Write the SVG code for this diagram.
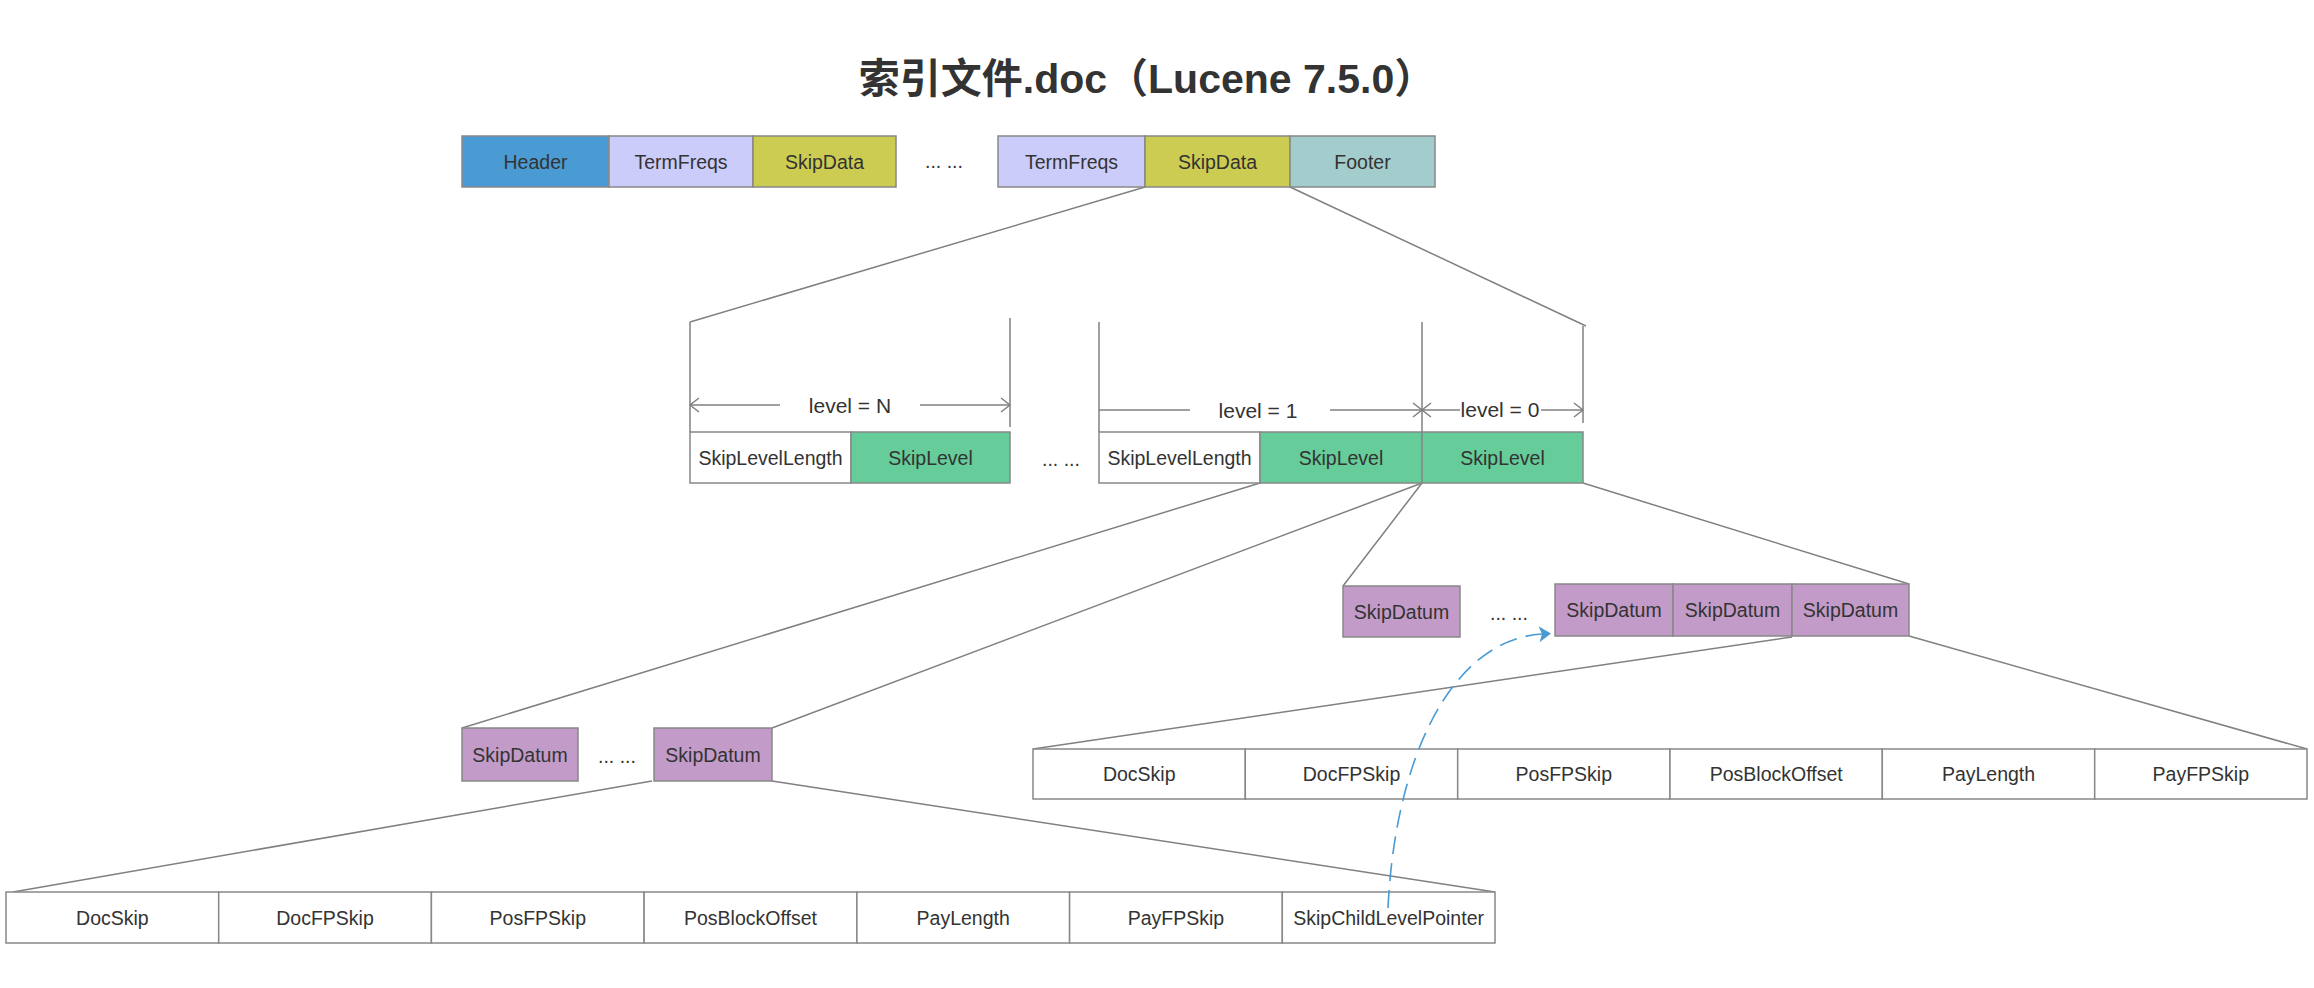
<svg xmlns="http://www.w3.org/2000/svg" width="2314" height="988" viewBox="0 0 2314 988">
<style>
.b{stroke:#888;stroke-width:1.5}
.t{font-family:"Liberation Sans",Arial,sans-serif;font-size:19.5px;fill:#333;text-anchor:middle}
.lv{font-family:"Liberation Sans",Arial,sans-serif;font-size:21px;fill:#333;text-anchor:middle}
.ln{stroke:#808080;stroke-width:1.5;fill:none}
.hdr{fill:#4A9BD4}.tf{fill:#CCCCFA}.sd{fill:#CCCC52}.ft{fill:#A3CCCC}.sl{fill:#66CC99}.dt{fill:#C39BC8}.w{fill:#fff}
</style>
<defs>
<marker id="chev" markerUnits="userSpaceOnUse" markerWidth="12" markerHeight="18" viewBox="0 -9 12 18" refX="10" refY="0" orient="auto-start-reverse">
<path d="M1,-7 L10,0 L1,7" fill="none" stroke="#808080" stroke-width="1.5"/>
</marker>
<marker id="blue" markerUnits="userSpaceOnUse" markerWidth="14" markerHeight="20" viewBox="0 0 14 20" refX="3" refY="9" orient="auto">
<path d="M0,1 L12,9 L0,17 L3,9 z" fill="#4A9BD4"/>
</marker>
</defs>
<rect width="2314" height="988" fill="#fff"/>
<text x="1147" y="93" font-family="'Liberation Sans','Noto Sans CJK SC',sans-serif" font-size="41" font-weight="bold" fill="#333" text-anchor="middle">索引文件.doc（Lucene 7.5.0）</text>

<g id="connectors">
<path class="ln" d="M1145,187 L690,322"/>
<path class="ln" d="M1290,187 L1586,326"/>
<path class="ln" d="M690,322 L690,432"/>
<path class="ln" d="M1010,318 L1010,427"/>
<path class="ln" d="M1099,322 L1099,432"/>
<path class="ln" d="M1422,322 L1422,432"/>
<path class="ln" d="M1583,326 L1583,423"/>
<path class="ln" d="M780,405 L690,405" marker-end="url(#chev)"/>
<path class="ln" d="M920,405 L1010,405" marker-end="url(#chev)"/>
<path class="ln" d="M1099,410 L1190,410"/>
<path class="ln" d="M1330,410 L1422,410" marker-end="url(#chev)"/>
<path class="ln" d="M1460,410 L1422,410" marker-end="url(#chev)"/>
<path class="ln" d="M1541,410 L1583,410" marker-end="url(#chev)"/>
<path class="ln" d="M1422,483 L1343,586"/>
<path class="ln" d="M1583,483 L1909,584"/>
<path class="ln" d="M1260,483 L462,728"/>
<path class="ln" d="M1422,483 L772,728"/>
<path class="ln" d="M1792,637 L1033,749"/>
<path class="ln" d="M1909,636 L2307,749"/>
<path class="ln" d="M652,781 L13,892"/>
<path class="ln" d="M772,781 L1495,892"/>
</g>

<g id="level-labels">
<text class="lv" x="850" y="413">level = N</text>
<text class="lv" x="1258" y="418">level = 1</text>
<text class="lv" x="1500" y="417">level = 0</text>
</g>

<g id="header"><rect class="b hdr" x="462" y="136" width="147" height="51"/><text class="t" x="535.5" y="168.5">Header</text></g>
<g id="termfreqs1"><rect class="b tf" x="609" y="136" width="144" height="51"/><text class="t" x="681" y="168.5">TermFreqs</text></g>
<g id="skipdata1"><rect class="b sd" x="753" y="136" width="143" height="51"/><text class="t" x="824.5" y="168.5">SkipData</text></g>
<text class="t" x="944" y="168">... ...</text>
<g id="termfreqs2"><rect class="b tf" x="998" y="136" width="147" height="51"/><text class="t" x="1071.5" y="168.5">TermFreqs</text></g>
<g id="skipdata2"><rect class="b sd" x="1145" y="136" width="145" height="51"/><text class="t" x="1217.5" y="168.5">SkipData</text></g>
<g id="footer"><rect class="b ft" x="1290" y="136" width="145" height="51"/><text class="t" x="1362.5" y="168.5">Footer</text></g>

<g id="skiplevellength-n"><rect class="b w" x="690" y="432" width="161" height="51"/><text class="t" x="770.5" y="464.5">SkipLevelLength</text></g>
<g id="skiplevel-n"><rect class="b sl" x="851" y="432" width="159" height="51"/><text class="t" x="930.5" y="464.5">SkipLevel</text></g>
<text class="t" x="1061" y="466">... ...</text>
<g id="skiplevellength-1"><rect class="b w" x="1099" y="432" width="161" height="51"/><text class="t" x="1179.5" y="464.5">SkipLevelLength</text></g>
<g id="skiplevel-1"><rect class="b sl" x="1260" y="432" width="162" height="51"/><text class="t" x="1341" y="464.5">SkipLevel</text></g>
<g id="skiplevel-0"><rect class="b sl" x="1422" y="432" width="161" height="51"/><text class="t" x="1502.5" y="464.5">SkipLevel</text></g>

<g id="skipdatum-r1"><rect class="b dt" x="1343" y="586" width="117" height="51"/><text class="t" x="1401.5" y="618.5">SkipDatum</text></g>
<text class="t" x="1509" y="620">... ...</text>
<g id="skipdatum-r2"><rect class="b dt" x="1555" y="584" width="118" height="52"/><text class="t" x="1614" y="616.5">SkipDatum</text></g>
<g id="skipdatum-r3"><rect class="b dt" x="1673" y="584" width="119" height="52"/><text class="t" x="1732.5" y="616.5">SkipDatum</text></g>
<g id="skipdatum-r4"><rect class="b dt" x="1792" y="584" width="117" height="52"/><text class="t" x="1850.5" y="616.5">SkipDatum</text></g>

<g id="skipdatum-l1"><rect class="b dt" x="462" y="728" width="116" height="53"/><text class="t" x="520" y="761.5">SkipDatum</text></g>
<text class="t" x="617" y="763">... ...</text>
<g id="skipdatum-l2"><rect class="b dt" x="654" y="728" width="118" height="53"/><text class="t" x="713" y="761.5">SkipDatum</text></g>

<g id="fields-upper">
<rect class="b w" x="1033" y="749" width="212.3" height="50"/><text class="t" x="1139.2" y="781">DocSkip</text>
<rect class="b w" x="1245.3" y="749" width="212.4" height="50"/><text class="t" x="1351.5" y="781">DocFPSkip</text>
<rect class="b w" x="1457.7" y="749" width="212.3" height="50"/><text class="t" x="1563.8" y="781">PosFPSkip</text>
<rect class="b w" x="1670" y="749" width="212.3" height="50"/><text class="t" x="1776.2" y="781">PosBlockOffset</text>
<rect class="b w" x="1882.3" y="749" width="212.4" height="50"/><text class="t" x="1988.5" y="781">PayLength</text>
<rect class="b w" x="2094.7" y="749" width="212.3" height="50"/><text class="t" x="2200.8" y="781">PayFPSkip</text>
</g>

<g id="fields-lower">
<rect class="b w" x="6" y="892" width="212.7" height="51"/><text class="t" x="112.4" y="924.5">DocSkip</text>
<rect class="b w" x="218.7" y="892" width="212.7" height="51"/><text class="t" x="325" y="924.5">DocFPSkip</text>
<rect class="b w" x="431.4" y="892" width="212.7" height="51"/><text class="t" x="537.8" y="924.5">PosFPSkip</text>
<rect class="b w" x="644.1" y="892" width="212.8" height="51"/><text class="t" x="750.5" y="924.5">PosBlockOffset</text>
<rect class="b w" x="856.9" y="892" width="212.7" height="51"/><text class="t" x="963.2" y="924.5">PayLength</text>
<rect class="b w" x="1069.6" y="892" width="212.7" height="51"/><text class="t" x="1176" y="924.5">PayFPSkip</text>
<rect class="b w" x="1282.3" y="892" width="212.7" height="51"/><text class="t" x="1388.6" y="924.5">SkipChildLevelPointer</text>
</g>

<g id="pointer-connector">
<path d="M1388,908 C1395,760 1450,640 1542,634" fill="none" stroke="#4A9BD4" stroke-width="1.6" stroke-dasharray="18 9" marker-end="url(#blue)"/>
</g>
</svg>
